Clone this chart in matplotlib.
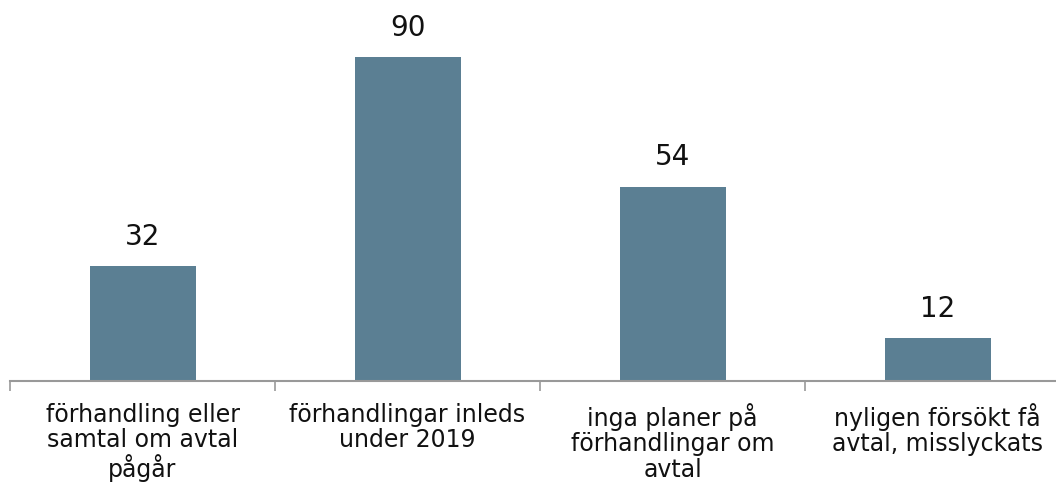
import matplotlib.pyplot as plt

categories = ['förhandling eller\nsamtal om avtal\npågår',
              'förhandlingar inleds\nunder 2019',
              'inga planer på\nförhandlingar om\navtal',
              'nyligen försökt få\navtal, misslyckats']
values = [32, 90, 54, 12]

fig = plt.figure(figsize=(10.56, 4.84), dpi=100)
# axes stretches a bit past the right edge, like the original
ax = fig.add_axes([10 / 1056, 103 / 484, 1060 / 1056, 360 / 484])

x = list(range(len(values)))
bars = ax.bar(x, values, width=0.4, color='#5b7f93')

for xi, v in zip(x, values):
    ax.annotate(str(v), (xi, v), xytext=(0, 11), textcoords='offset points',
                ha='center', va='bottom', fontsize=20, color='#111111')

ax.set_xlim(-0.5, len(values) - 0.5)
ax.set_ylim(0, 100)

# category labels as text, ticks at the boundaries
ax.set_xticks([i - 0.5 for i in range(len(values) + 1)])
ax.set_xticklabels([])
ax.tick_params(axis='x', length=7, width=1.2, color='#999999')
for xi, lab in zip(x, categories):
    ax.text(xi, -6, lab, ha='center', va='top', fontsize=17,
            linespacing=1.08, transform=ax.transData, color='#111111')

ax.set_yticks([])
for side in ['top', 'right', 'left']:
    ax.spines[side].set_visible(False)
ax.spines['bottom'].set_color('#999999')
ax.spines['bottom'].set_linewidth(1.5)

fig.savefig('out.png', dpi=100)
